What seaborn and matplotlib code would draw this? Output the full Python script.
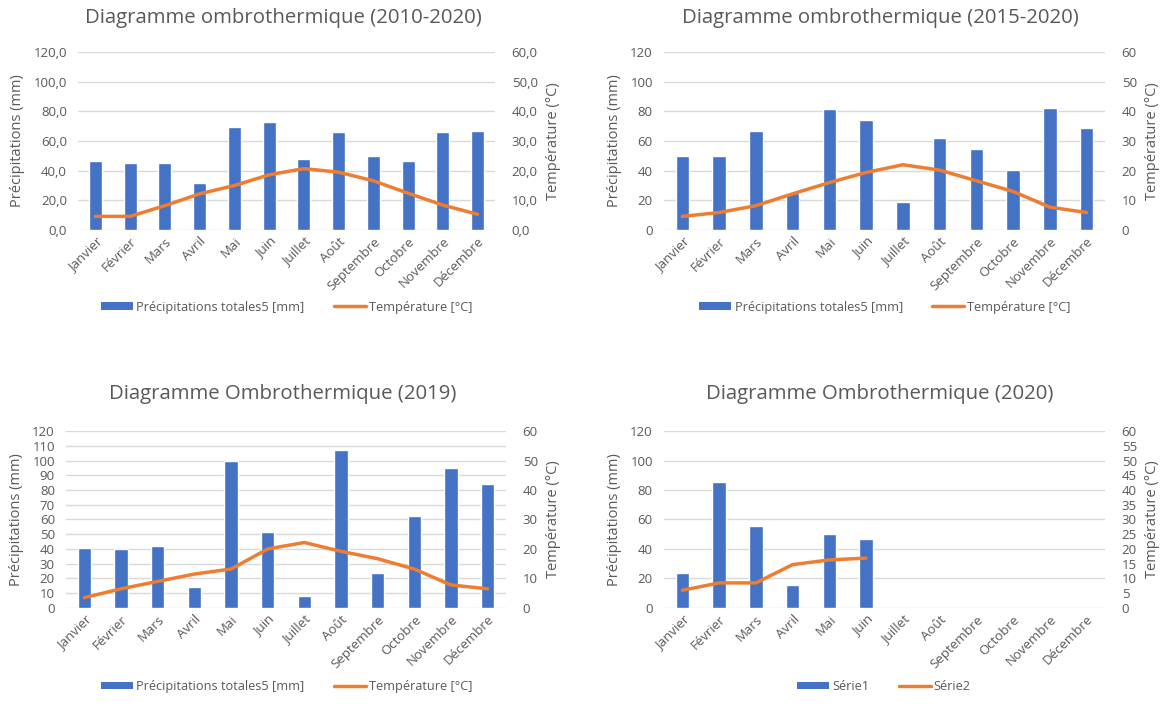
import numpy as np
import matplotlib
matplotlib.use("Agg")
import matplotlib.pyplot as plt
import seaborn as sns
from matplotlib.ticker import FuncFormatter, MultipleLocator
from matplotlib.lines import Line2D
from matplotlib.patches import Patch

sns.set_theme(style="white")
plt.rcParams['font.family'] = ['Open Sans', 'DejaVu Sans']

months = ["Janvier", "Février", "Mars", "Avril", "Mai", "Juin", "Juillet",
          "Août", "Septembre", "Octobre", "Novembre", "Décembre"]

precip_2010_2020 = [46.4, 45.3, 45.3, 32.0, 69.4, 73.0, 48.0, 65.8, 50.0, 46.4, 65.8, 67.1]
temp_2010_2020 = [4.6, 4.6, 8.2, 12.2, 15.0, 18.6, 20.7, 19.5, 16.6, 12.4, 8.4, 5.3]

precip_2015_2020 = [50.0, 50.0, 66.9, 24.8, 81.3, 74.1, 18.7, 61.9, 54.7, 40.3, 82.4, 69.1]
temp_2015_2020 = [4.6, 5.9, 8.2, 12.2, 16.0, 19.4, 22.0, 20.2, 16.6, 13.0, 7.7, 5.9]

precip_2019 = [40.8, 39.7, 42.0, 14.4, 100.0, 51.7, 8.4, 107.0, 23.9, 62.5, 95.0, 84.2]
temp_2019 = [3.5, 6.5, 9.0, 11.5, 13.2, 20.0, 22.2, 19.2, 16.7, 13.2, 7.8, 6.5]

precip_2020 = [23.9, 85.3, 55.3, 15.6, 50.3, 46.9]
temp_2020 = [6.0, 8.5, 8.5, 14.7, 16.3, 16.9]

BLUE = "#4472C4"
ORANGE = "#ED7D31"
GREY = "#595959"
GRID = "#D9D9D9"

fig = plt.figure(figsize=(11.6, 7.13), dpi=100)

panels = [
    dict(rect=[0.0672, 0.6774, 0.3595, 0.2496], title="Diagramme ombrothermique (2010-2020)",
         precip=precip_2010_2020, temp=temp_2010_2020, lstep=20, rstep=10, decimals=True,
         labels=("Précipitations totales5 [mm]", "Température [°C]"),
         title_x=0.244, title_y=0.975, leg_x=0.247, leg_y=0.544),
    dict(rect=[0.5724, 0.6774, 0.3802, 0.2496], title="Diagramme ombrothermique (2015-2020)",
         precip=precip_2015_2020, temp=temp_2015_2020, lstep=20, rstep=10, decimals=False,
         labels=("Précipitations totales5 [mm]", "Température [°C]"),
         title_x=0.7586, title_y=0.975, leg_x=0.763, leg_y=0.544),
    dict(rect=[0.0569, 0.1473, 0.3793, 0.2482], title="Diagramme Ombrothermique (2019)",
         precip=precip_2019, temp=temp_2019, lstep=10, rstep=10, decimals=False,
         labels=("Précipitations totales5 [mm]", "Température [°C]"),
         title_x=0.244, title_y=0.447, leg_x=0.247, leg_y=0.012),
    dict(rect=[0.5724, 0.1473, 0.3802, 0.2482], title="Diagramme Ombrothermique (2020)",
         precip=precip_2020, temp=temp_2020, lstep=20, rstep=5, decimals=False,
         labels=("Série1", "Série2"),
         title_x=0.7586, title_y=0.447, leg_x=0.762, leg_y=0.012),
]


def tick_fmt(decimals):
    if decimals:
        return FuncFormatter(lambda v, _: f"{v:.1f}".replace(".", ","))
    return FuncFormatter(lambda v, _: f"{v:.0f}")


for p in panels:
    ax = fig.add_axes(p["rect"])
    n = len(p["precip"])
    sns.barplot(x=months[:n], y=p["precip"], order=months, color=BLUE,
                width=0.37, saturation=1, ax=ax, zorder=3)
    ax.set_ylim(0, 120)
    ax.yaxis.set_major_locator(MultipleLocator(p["lstep"]))
    ax.yaxis.set_major_formatter(tick_fmt(p["decimals"]))
    ax.grid(axis="y", color=GRID, linewidth=1, zorder=0)
    ax.set_axisbelow(True)
    for s in ax.spines.values():
        s.set_visible(False)
    ax.set_xlim(-0.5, 11.5)
    ax.set_xlabel("")
    ax.set_ylabel("Précipitations (mm)", color=GREY, fontsize=10.5, labelpad=6)
    ax.tick_params(axis="both", length=0, colors=GREY, labelsize=9.5)
    ax.tick_params(axis="y", pad=8)
    plt.setp(ax.get_xticklabels(), rotation=45, ha="right", rotation_mode="anchor")

    ax2 = ax.twinx()
    sns.lineplot(x=np.arange(len(p["temp"])), y=p["temp"], color=ORANGE,
                 linewidth=2.5, ax=ax2, zorder=4)
    ax2.set_ylim(0, 60)
    ax2.yaxis.set_major_locator(MultipleLocator(p["rstep"]))
    ax2.yaxis.set_major_formatter(tick_fmt(p["decimals"]))
    for s in ax2.spines.values():
        s.set_visible(False)
    ax2.grid(False)
    ax2.set_xlim(-0.5, 11.5)
    ax2.set_ylabel("Température (°C)", color=GREY, fontsize=10.5, labelpad=6)
    ax2.tick_params(axis="both", length=0, colors=GREY, labelsize=9.5)
    ax2.tick_params(axis="y", pad=12)

    fig.text(p["title_x"], p["title_y"], p["title"], ha="center", va="center",
             fontsize=14.7, color=GREY)

    handles = [Patch(facecolor=BLUE, edgecolor="none"),
               Line2D([0], [0], color=ORANGE, linewidth=2.5)]
    fig.legend(handles, p["labels"], loc="lower center", bbox_to_anchor=(p["leg_x"], p["leg_y"]),
               ncol=2, frameon=False, fontsize=9.2, labelcolor=GREY,
               handlelength=2.5, handleheight=0.55, columnspacing=2.3, handletextpad=0.25)

fig.savefig("out.png", dpi=100, facecolor="white")
